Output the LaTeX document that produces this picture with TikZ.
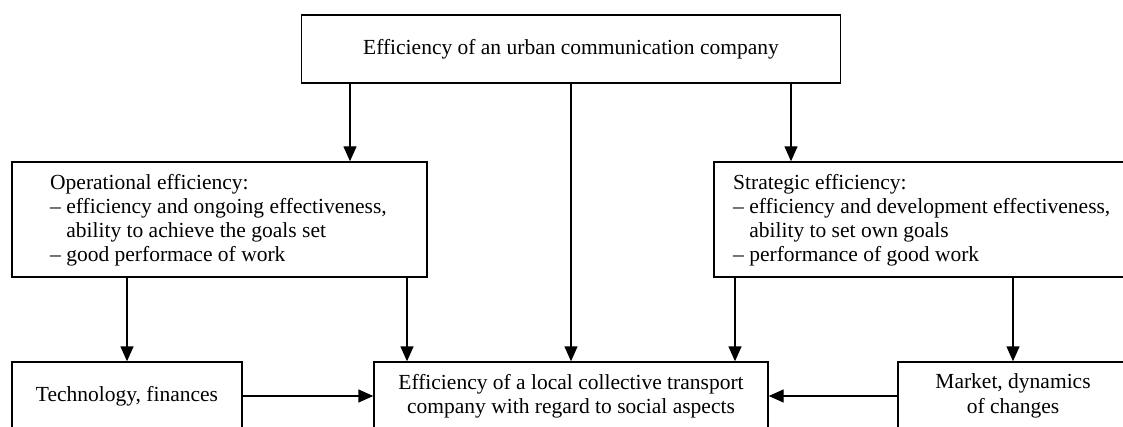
\documentclass[tikz,border=0pt]{standalone}
\usepackage{fontspec}
\setmainfont{Liberation Serif}
\usetikzlibrary{arrows.meta,calc}
\begin{document}
\begin{tikzpicture}[x=1pt,y=-1pt,
  box/.style={draw, line width=1.4pt, rectangle, inner sep=0pt, align=center,
    font=\fontsize{21.5}{24.5}\selectfont},
  txt/.style={inner sep=0pt, align=left, anchor=west,
    font=\fontsize{21.5}{24}\selectfont},
  arr/.style={line width=1.4pt, -{Triangle[length=15pt,width=13pt]}}]
\useasboundingbox (0,0) rectangle (1123,427);
% boxes
\node[box, minimum width=539pt, minimum height=68pt] (top) at (571,49) {Efficiency of an urban communication company};
\node[box, minimum width=415pt, minimum height=115pt] (op) at (219.5,219.5) {};
\node[box, minimum width=430pt, minimum height=115pt] (st) at (929,219.5) {};
\node[box, minimum width=230pt, minimum height=68pt] (tech) at (127,396) {Technology, finances};
\node[box, minimum width=394pt, minimum height=68pt] (ctr) at (571,396) {Efficiency of a local collective transport\\company with regard to social aspects};
\node[box, minimum width=230pt, minimum height=68pt] (mkt) at (1013,396) {Market, dynamics\\of changes};
% texts in the middle boxes
\node[txt] (optxt) at (50,220) {Operational efficiency:\\– efficiency and ongoing effectiveness,\\\phantom{– }ability to achieve the goals set\\– good performace of work};
\node[txt] (sttxt) at (733,220) {Strategic efficiency:\\– efficiency and development effectiveness,\\\phantom{– }ability to set own goals\\– performance of good work};
% connectors
\draw[arr] (top.south -| 350,0) -- (op.north -| 350,0);
\draw[arr] (top.south) -- (ctr.north);
\draw[arr] (top.south -| 791,0) -- (st.north -| 791,0);
\draw[arr] (op.south -| tech.north) -- (tech.north);
\draw[arr] (op.south -| 407,0) -- (ctr.north -| 407,0);
\draw[arr] (st.south -| 735,0) -- (ctr.north -| 735,0);
\draw[arr] (st.south -| mkt.north) -- (mkt.north);
\draw[arr] (tech.east) -- (ctr.west);
\draw[arr] (mkt.west) -- (ctr.east);
\end{tikzpicture}
\end{document}
